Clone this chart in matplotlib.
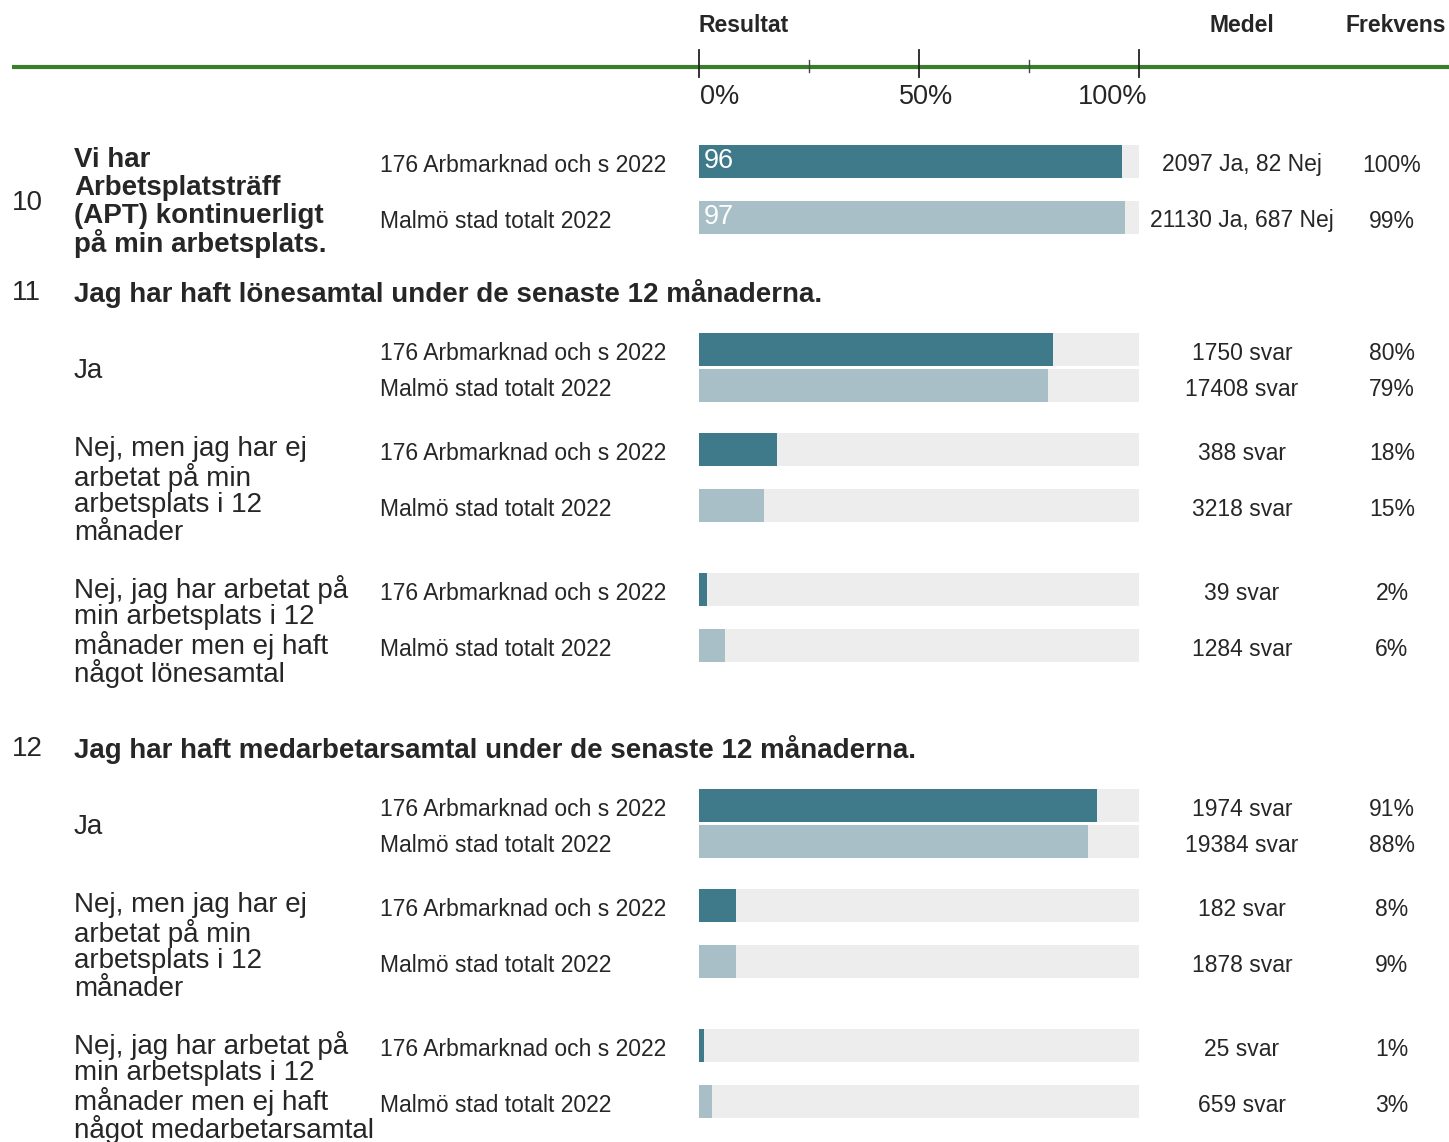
import matplotlib
matplotlib.use("Agg")
import matplotlib.pyplot as plt

plt.rcParams["font.family"] = ["Liberation Sans", "DejaVu Sans"]

# --- data -----------------------------------------------------------------
groups = ["176 Arbmarknad och s 2022", "Malmö stad totalt 2022"]

q10_title = ["Vi har", "Arbetsplatsträff", "(APT) kontinuerligt", "på min arbetsplats."]
q10_values = [96.2, 96.9]
q10_labels = ["96", "97"]
q10_medel = ["2097 Ja, 82 Nej", "21130 Ja, 687 Nej"]
q10_freq = ["100%", "99%"]

q11_title = "Jag har haft lönesamtal under de senaste 12 månaderna."
q11_answers = [
    ["Ja"],
    ["Nej, men jag har ej", "arbetat på min", "arbetsplats i 12", "månader"],
    ["Nej, jag har arbetat på", "min arbetsplats i 12", "månader men ej haft", "något lönesamtal"],
]
q11_values = [[80.4, 79.4], [17.8, 14.7], [1.8, 5.9]]
q11_counts = [["1750 svar", "17408 svar"], ["388 svar", "3218 svar"], ["39 svar", "1284 svar"]]
q11_freq = [["80%", "79%"], ["18%", "15%"], ["2%", "6%"]]

q12_title = "Jag har haft medarbetarsamtal under de senaste 12 månaderna."
q12_answers = [
    ["Ja"],
    ["Nej, men jag har ej", "arbetat på min", "arbetsplats i 12", "månader"],
    ["Nej, jag har arbetat på", "min arbetsplats i 12", "månader men ej haft", "något medarbetarsamtal"],
]
q12_values = [[90.5, 88.4], [8.4, 8.4], [1.1, 3.0]]
q12_counts = [["1974 svar", "19384 svar"], ["182 svar", "1878 svar"], ["25 svar", "659 svar"]]
q12_freq = [["91%", "88%"], ["8%", "9%"], ["1%", "3%"]]

# --- styling ----------------------------------------------------------------
W, H = 1449, 1142
DARK = "#3f7a8b"
LIGHT = "#a8bfc7"
TRACK = "#ededed"
TXT = "#262626"
GREEN = "#3a7d2a"
BAR_H = 33
BAR_X0, BAR_X1 = 699, 1139
X_GROUP = 380
X_MEDEL = 1242
X_FREQ = 1392
DY = 2  # text baseline nudge

fig = plt.figure(figsize=(W / 100, H / 100), dpi=100)
ax = fig.add_axes([0, 0, 1, 1])
ax.set_xlim(0, W)
ax.set_ylim(H, 0)
ax.axis("off")

bx = fig.add_axes([BAR_X0 / W, 0, (BAR_X1 - BAR_X0) / W, 1])
bx.set_xlim(0, 100)
bx.set_ylim(H, 0)
bx.axis("off")

# header
ax.text(BAR_X0, 23 + DY, "Resultat", fontsize=16.5, fontweight="bold", color=TXT,
        ha="left", va="center")
ax.text(X_MEDEL, 23 + DY, "Medel", fontsize=16.5, fontweight="bold", color=TXT,
        ha="center", va="center")
ax.text(1396, 23 + DY, "Frekvens", fontsize=16.5, fontweight="bold", color=TXT,
        ha="center", va="center")
ax.plot([12, W], [67, 67], color=GREEN, lw=3, solid_capstyle="butt")
for t in [0, 50, 100]:
    bx.plot([t, t], [50, 77], color="#222222", lw=1.3, clip_on=False)
for t in [25, 75]:
    bx.plot([t, t], [60, 72], color="#444444", lw=1.0, clip_on=False)
ax.text(700, 95 + DY, "0%", fontsize=19.5, color=TXT, ha="left", va="center")
ax.text(899, 95 + DY, "50%", fontsize=19.5, color=TXT, ha="left", va="center")
ax.text(1147, 95 + DY, "100%", fontsize=19.5, color=TXT, ha="right", va="center")


def draw_bar(yc, value, col, medel, freq, group):
    bx.barh(yc, 100, height=BAR_H, color=TRACK, lw=0)
    bx.barh(yc, value, height=BAR_H, color=col, lw=0)
    ty = yc + 2 + DY
    ax.text(X_GROUP, ty, group, fontsize=16.5, color=TXT, ha="left", va="center")
    ax.text(X_MEDEL, ty, medel, fontsize=16.5, color=TXT, ha="center", va="center")
    ax.text(X_FREQ, ty, freq, fontsize=16.5, color=TXT, ha="center", va="center")


# question 10
ax.text(12, 201 + DY, "10", fontsize=20, color=TXT, ha="left", va="center")
for i, line in enumerate(q10_title):
    ax.text(74, 158 + 28 * i + DY, line, fontsize=20, fontweight="bold", color=TXT,
            ha="left", va="center")
for j, yc in enumerate([161, 217]):
    col = DARK if j == 0 else LIGHT
    draw_bar(yc, q10_values[j], col, q10_medel[j], q10_freq[j], groups[j])
    bx.text(1.0, yc - 2 + DY, q10_labels[j], fontsize=19.5, color="white",
            ha="left", va="center", zorder=5)


def draw_question(num, title, ytitle, answers, values, counts, freqs, ystarts):
    ax.text(12, ytitle + DY, num, fontsize=20, color=TXT, ha="left", va="center")
    ax.text(74, ytitle + DY, title, fontsize=20, fontweight="bold", color=TXT,
            ha="left", va="center")
    for k, y0 in enumerate(ystarts):
        gap = 36 if len(answers[k]) == 1 else 56
        ys = [y0, y0 + gap]
        if len(answers[k]) == 1:
            ax.text(74, y0 + 20 + DY, answers[k][0], fontsize=20, color=TXT,
                    ha="left", va="center")
        else:
            for i, line in enumerate(answers[k]):
                ax.text(74, y0 - 2 + 28 * i + DY, line, fontsize=20, color=TXT,
                        ha="left", va="center")
        for j, yc in enumerate(ys):
            col = DARK if j == 0 else LIGHT
            draw_bar(yc, values[k][j], col, counts[k][j], freqs[k][j], groups[j])


draw_question("11", q11_title, 291, q11_answers, q11_values, q11_counts, q11_freq,
              [349, 449, 589])
draw_question("12", q12_title, 747, q12_answers, q12_values, q12_counts, q12_freq,
              [805, 905, 1045])

fig.savefig("out.png", dpi=100)
